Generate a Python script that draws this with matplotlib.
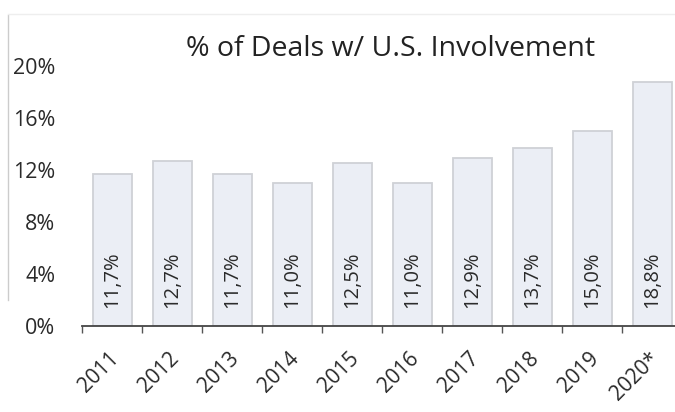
import matplotlib
matplotlib.use('Agg')
import matplotlib.pyplot as plt
import matplotlib.transforms as mtransforms
import numpy as np

years = ['2011', '2012', '2013', '2014', '2015', '2016', '2017', '2018', '2019', '2020*']
share = [11.7, 12.7, 11.7, 11.0, 12.5, 11.0, 12.9, 13.7, 15.0, 18.8]
yticks = [0, 4, 8, 12, 16, 20]

plt.rcParams['font.family'] = ['Open Sans', 'DejaVu Sans']
txt = '#2a2a2a'

fig = plt.figure(figsize=(6.75, 4.12), dpi=100)
# axes runs slightly past the right edge, like the cropped scan
ax = fig.add_axes([82/675, 1 - 326/412, 600/675, 260/412])

x = np.arange(len(years))
ax.bar(x, share, width=0.65, color='#ebeef5', edgecolor='#cfd1d6', linewidth=1.3, zorder=2)

for xi, v in zip(x, share):
    lab = ('%.1f%%' % v).replace('.', ',')
    ax.text(xi, 1.35, lab, rotation=90, ha='center', va='bottom',
            fontsize=14.5, color=txt, zorder=3)

ax.set_xlim(-0.5, len(years) - 0.5)
ax.set_ylim(0, 20)
ax.set_yticks(yticks)
ax.set_yticklabels(['%d%%' % t for t in yticks], fontsize=15.5, color=txt)
ax.tick_params(axis='y', length=0, pad=19)

ax.set_xticks(np.arange(len(years) + 1) - 0.5, minor=False)
ax.set_xticklabels([])
ax.set_xticks(x, minor=True)
ax.set_xticklabels(years, minor=True, rotation=45, ha='right', va='top',
                   rotation_mode='anchor', fontsize=15, color=txt)
ax.tick_params(axis='x', which='major', length=5, width=1, color='#555555', direction='out')
ax.tick_params(axis='x', which='minor', length=0, pad=16)
shift = mtransforms.ScaledTranslation(-4/100, 0, fig.dpi_scale_trans)
for lbl in ax.get_xticklabels(minor=True):
    lbl.set_transform(lbl.get_transform() + shift)

for s in ['top', 'right', 'left']:
    ax.spines[s].set_visible(False)
ax.spines['bottom'].set_color('#444444')
ax.spines['bottom'].set_linewidth(1.3)

fig.text(391/675, 1 - 49/412, '% of Deals w/ U.S. Involvement', ha='center', va='center',
         fontsize=20.5, color='#222222')

# faint scan edges
fig.add_artist(plt.Line2D([8/675, 8/675], [1 - 300/412, 1 - 15/412], color='#cccccc', lw=1))
fig.add_artist(plt.Line2D([8/675, 1], [1 - 14/412, 1 - 14/412], color='#eeeeee', lw=1))

fig.savefig('out.png', dpi=100)
